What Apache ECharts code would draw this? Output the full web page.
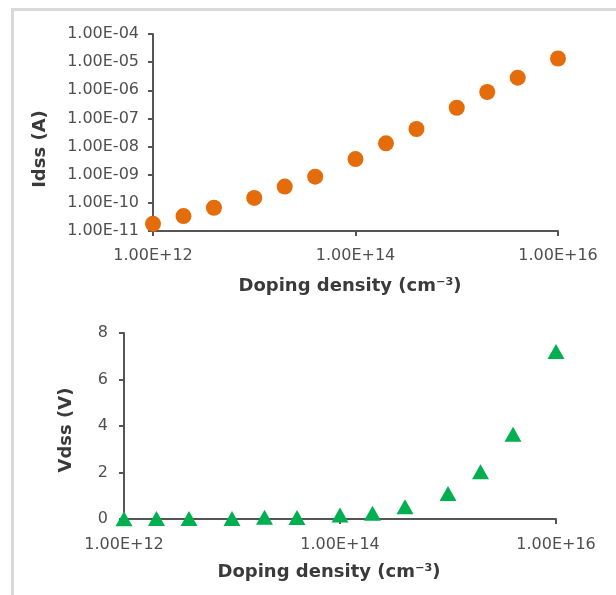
<!DOCTYPE html>
<html>
<head>
<meta charset="utf-8">
<style>
  html, body { margin: 0; padding: 0; background: #fff; }
  #chart { width: 616px; height: 595px; }
</style>
<script src="https://cdn.jsdelivr.net/npm/echarts@6/dist/echarts.min.js"></script>
</head>
<body>
<div id="chart"></div>
<script>
// ---- data ----
var dopingDensity = [1e12, 2e12, 4e12, 1e13, 2e13, 4e13, 1e14, 2e14, 4e14, 1e15, 2e15, 4e15, 1e16];
var idss = [1.8e-11, 3.4e-11, 6.7e-11, 1.5e-10, 3.8e-10, 8.5e-10, 3.6e-9, 1.3e-8, 4.2e-8, 2.4e-7, 8.7e-7, 2.8e-6, 1.35e-5];
var vdss = [0.01, 0.02, 0.02, 0.02, 0.08, 0.06, 0.17, 0.25, 0.53, 1.1, 2.03, 3.64, 7.2];

var xTickValues = [1e12, 1e14, 1e16];
var xTickLabels = ['1.00E+12', '1.00E+14', '1.00E+16'];
var idssTickValues = [1e-11, 1e-10, 1e-9, 1e-8, 1e-7, 1e-6, 1e-5, 1e-4];
var idssTickLabels = ['1.00E-11', '1.00E-10', '1.00E-09', '1.00E-08', '1.00E-07', '1.00E-06', '1.00E-05', '1.00E-04'];
var vdssTickLabels = ['0', '2', '4', '6', '8'];

var xTitle = 'Doping density (cm\u207B\u00B3)';
var idssTitle = 'Idss (A)';
var vdssTitle = 'Vdss (V)';

function pickLabel(values, labels) {
  return function (v) {
    var best = -1, bd = Infinity;
    for (var i = 0; i < values.length; i++) {
      var d = Math.abs(Math.log10(v) - Math.log10(values[i]));
      if (d < bd) { bd = d; best = i; }
    }
    return bd < 0.01 ? labels[best] : '';
  };
}

var FONT = 'DejaVu Sans';
var axisColor = '#555555';
var labelColor = '#4f4f4f';
var titleColor = '#3a3a3a';

function pairs(xs, ys) {
  return xs.map(function (x, i) { return [x, ys[i]]; });
}

var commonAxisLine = { show: true, lineStyle: { color: axisColor, width: 2 } };
var commonTick = { show: true, inside: false, length: 5, lineStyle: { color: axisColor, width: 2 } };
var labelStyle = { color: labelColor, fontFamily: FONT, fontSize: 16 };

var chart = echarts.init(document.getElementById('chart'), null, { renderer: 'canvas' });
chart.setOption({
  animation: false,
  backgroundColor: '#ffffff',
  grid: [
    { left: 153, width: 405, top: 34, height: 197 },
    { left: 124, width: 432, top: 333, height: 186 }
  ],
  xAxis: [
    {
      gridIndex: 0, type: 'log', logBase: 10, min: 1e12, max: 1e16, interval: 2,
      axisLine: commonAxisLine, axisTick: commonTick, splitLine: { show: false },
      minorTick: { show: false },
      axisLabel: Object.assign({ margin: 17, formatter: pickLabel(xTickValues, xTickLabels) }, labelStyle)
    },
    {
      gridIndex: 1, type: 'log', logBase: 10, min: 1e12, max: 1e16, interval: 2,
      axisLine: commonAxisLine, axisTick: commonTick, splitLine: { show: false },
      minorTick: { show: false },
      axisLabel: Object.assign({ margin: 18, formatter: pickLabel(xTickValues, xTickLabels) }, labelStyle)
    }
  ],
  yAxis: [
    {
      gridIndex: 0, type: 'log', logBase: 10, min: 1e-11, max: 1e-4, interval: 1,
      axisLine: commonAxisLine, axisTick: commonTick, splitLine: { show: false },
      axisLabel: Object.assign({ margin: 14, formatter: pickLabel(idssTickValues, idssTickLabels) }, labelStyle)
    },
    {
      gridIndex: 1, type: 'value', min: 0, max: 8, interval: 2,
      axisLine: commonAxisLine, axisTick: commonTick, splitLine: { show: false },
      axisLabel: Object.assign({ margin: 16, formatter: function (v) { return vdssTickLabels[Math.round(v / 2)]; } }, labelStyle)
    }
  ],
  series: [
    {
      type: 'scatter', xAxisIndex: 0, yAxisIndex: 0, clip: false,
      symbol: 'circle', symbolSize: 16,
      itemStyle: { color: '#E46C0A', opacity: 1 },
      data: pairs(dopingDensity, idss)
    },
    {
      type: 'scatter', xAxisIndex: 1, yAxisIndex: 1, clip: false,
      symbol: 'triangle', symbolSize: [17, 15],
      itemStyle: { color: '#00B050', opacity: 1 },
      data: pairs(dopingDensity, vdss)
    }
  ],
  graphic: [
    {
      type: 'rect', silent: true, z: -1,
      shape: { x: 12.5, y: 9.5, width: 640, height: 640 },
      style: { fill: 'none', stroke: '#d9d9d9', lineWidth: 3 }
    },
    {
      type: 'text', x: 350, y: 286,
      style: { text: xTitle, fill: titleColor, font: 'bold 18px "' + FONT + '"', align: 'center', verticalAlign: 'middle' }
    },
    {
      type: 'text', x: 329, y: 572,
      style: { text: xTitle, fill: titleColor, font: 'bold 18px "' + FONT + '"', align: 'center', verticalAlign: 'middle' }
    },
    {
      type: 'text', x: 40, y: 149, rotation: Math.PI / 2,
      style: { text: idssTitle, fill: titleColor, font: 'bold 18px "' + FONT + '"', align: 'center', verticalAlign: 'middle' }
    },
    {
      type: 'text', x: 66, y: 430, rotation: Math.PI / 2,
      style: { text: vdssTitle, fill: titleColor, font: 'bold 18px "' + FONT + '"', align: 'center', verticalAlign: 'middle' }
    }
  ]
});
</script>
</body>
</html>
